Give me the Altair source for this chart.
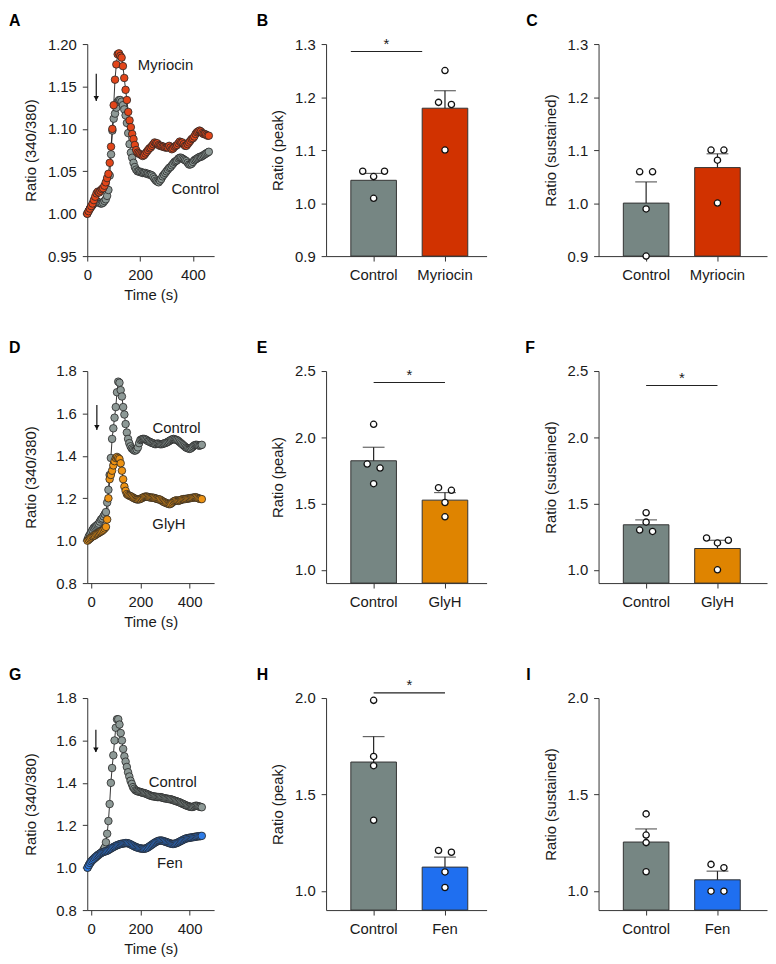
import altair as alt
import pandas as pd

FONT = "Liberation Sans"
INK = "#1a1a1a"
AX = "#333333"

# ---------------- Time-course data (ratio 340/380) ----------------
time_A = list(range(0, 461, 5))
ctrl_A = [1.000, 1.003, 1.006, 1.008, 1.010, 1.012, 1.014, 1.015, 1.014, 1.013,
          1.012, 1.012, 1.013, 1.015, 1.017, 1.021, 1.028, 1.045, 1.070, 1.098,
          1.112, 1.118, 1.125, 1.132, 1.134, 1.134, 1.132, 1.128, 1.123, 1.116,
          1.107, 1.095, 1.082, 1.072, 1.066, 1.060, 1.055, 1.052, 1.050, 1.050,
          1.049, 1.049, 1.048, 1.048, 1.048, 1.047, 1.047, 1.046, 1.046, 1.045,
          1.043, 1.041, 1.039, 1.038, 1.037, 1.039, 1.041, 1.044, 1.046, 1.048,
          1.050, 1.052, 1.054, 1.055, 1.057, 1.059, 1.061, 1.062, 1.063, 1.065,
          1.066, 1.066, 1.065, 1.064, 1.063, 1.062, 1.060, 1.058, 1.058, 1.059,
          1.061, 1.063, 1.064, 1.065, 1.066, 1.067, 1.067, 1.068, 1.069, 1.070,
          1.071, 1.072, 1.073]
myr_A = [1.000, 1.003, 1.006, 1.009, 1.012, 1.016, 1.020, 1.024, 1.026, 1.025,
         1.027, 1.029, 1.030, 1.033, 1.037, 1.042, 1.047, 1.060, 1.079, 1.100,
         1.128, 1.158, 1.176, 1.188, 1.189, 1.186, 1.184, 1.174, 1.160, 1.146,
         1.134, 1.120, 1.110, 1.102, 1.094, 1.088, 1.081, 1.075, 1.072, 1.071,
         1.070, 1.069, 1.068, 1.069, 1.071, 1.073, 1.075, 1.077, 1.078, 1.080,
         1.082, 1.084, 1.083, 1.083, 1.081, 1.080, 1.080, 1.079, 1.079, 1.078,
         1.078, 1.078, 1.080, 1.078, 1.076, 1.077, 1.079, 1.080, 1.081, 1.083,
         1.085, 1.084, 1.084, 1.082, 1.080, 1.080, 1.082, 1.084, 1.086, 1.088,
         1.089, 1.091, 1.094, 1.096, 1.097, 1.098, 1.097, 1.095, 1.094, 1.094,
         1.093, 1.092, 1.092]

time_DG = list(range(-15, 451, 5))
ctrl_D = [1.005, 1.020, 1.030, 1.040, 1.050, 1.060, 1.065, 1.070, 1.075, 1.080,
          1.090, 1.100, 1.105, 1.115, 1.125, 1.135, 1.180, 1.240, 1.310, 1.390,
          1.480, 1.530, 1.580, 1.630, 1.700, 1.750, 1.745, 1.710, 1.680, 1.630,
          1.595, 1.550, 1.510, 1.480, 1.460, 1.445, 1.435, 1.430, 1.425, 1.425,
          1.430, 1.440, 1.460, 1.475, 1.478, 1.480, 1.480, 1.478, 1.475, 1.470,
          1.468, 1.465, 1.462, 1.460, 1.458, 1.455, 1.456, 1.458, 1.457, 1.455,
          1.455, 1.456, 1.458, 1.460, 1.462, 1.465, 1.468, 1.472, 1.475, 1.478,
          1.480, 1.478, 1.476, 1.474, 1.470, 1.465, 1.460, 1.455, 1.450, 1.445,
          1.440, 1.437, 1.435, 1.433, 1.435, 1.440, 1.445, 1.450, 1.452, 1.452,
          1.450, 1.448, 1.450, 1.452]
glyh_D = [1.000, 1.005, 1.010, 1.015, 1.020, 1.022, 1.025, 1.030, 1.033, 1.036,
          1.040, 1.043, 1.047, 1.052, 1.058, 1.065, 1.100, 1.200, 1.290, 1.310,
          1.330, 1.355, 1.375, 1.390, 1.395, 1.390, 1.385, 1.365, 1.330, 1.290,
          1.255, 1.235, 1.220, 1.215, 1.212, 1.210, 1.207, 1.203, 1.200, 1.197,
          1.195, 1.194, 1.195, 1.197, 1.200, 1.203, 1.206, 1.208, 1.208, 1.207,
          1.205, 1.204, 1.203, 1.203, 1.202, 1.200, 1.198, 1.196, 1.195, 1.194,
          1.190, 1.186, 1.183, 1.180, 1.178, 1.175, 1.173, 1.172, 1.175, 1.180,
          1.185, 1.188, 1.190, 1.189, 1.188, 1.190, 1.192, 1.195, 1.196, 1.196,
          1.197, 1.198, 1.199, 1.200, 1.201, 1.202, 1.203, 1.204, 1.205, 1.203,
          1.200, 1.198, 1.197, 1.196]
ctrl_G = [1.000, 1.010, 1.020, 1.028, 1.035, 1.040, 1.045, 1.050, 1.055, 1.060,
          1.065, 1.070, 1.075, 1.085, 1.095, 1.120, 1.160, 1.220, 1.300, 1.400,
          1.470, 1.530, 1.600, 1.660, 1.700, 1.700, 1.675, 1.635, 1.600, 1.560,
          1.525, 1.500, 1.475, 1.450, 1.430, 1.410, 1.395, 1.380, 1.372, 1.365,
          1.362, 1.360, 1.358, 1.357, 1.355, 1.353, 1.352, 1.350, 1.348, 1.345,
          1.343, 1.340, 1.338, 1.337, 1.336, 1.335, 1.334, 1.333, 1.333, 1.333,
          1.332, 1.330, 1.328, 1.327, 1.326, 1.325, 1.324, 1.323, 1.322, 1.320,
          1.318, 1.316, 1.314, 1.312, 1.310, 1.308, 1.305, 1.302, 1.300, 1.297,
          1.294, 1.292, 1.290, 1.288, 1.287, 1.286, 1.287, 1.290, 1.292, 1.292,
          1.290, 1.288, 1.287, 1.285]
fen_G = [1.000, 1.012, 1.022, 1.030, 1.036, 1.042, 1.048, 1.053, 1.058, 1.062,
         1.066, 1.069, 1.072, 1.074, 1.076, 1.078, 1.080, 1.083, 1.087, 1.090,
         1.094, 1.097, 1.100, 1.103, 1.106, 1.108, 1.110, 1.112, 1.113, 1.114,
         1.115, 1.116, 1.116, 1.115, 1.113, 1.110, 1.107, 1.104, 1.101, 1.098,
         1.096, 1.094, 1.092, 1.091, 1.090, 1.089, 1.089, 1.090, 1.092, 1.095,
         1.099, 1.103, 1.107, 1.111, 1.115, 1.119, 1.122, 1.125, 1.127, 1.128,
         1.128, 1.127, 1.125, 1.123, 1.121, 1.119, 1.117, 1.115, 1.113, 1.112,
         1.112, 1.113, 1.115, 1.117, 1.120, 1.123, 1.126, 1.129, 1.132, 1.135,
         1.137, 1.139, 1.140, 1.141, 1.142, 1.143, 1.144, 1.145, 1.146, 1.147,
         1.148, 1.148, 1.149, 1.150]

# ---------------- Bar-chart data ----------------
groups_B = ["Control", "Myriocin"]
means_B = [1.043, 1.179]
top_B = [1.056, 1.212]
pts_B = [[1.060, 1.060, 1.050, 1.009], [1.250, 1.190, 1.186, 1.100]]

means_C = [1.000, 1.067]
top_C = [1.040, 1.093]
pts_C = [[1.059, 1.059, 0.989, 0.900], [1.100, 1.100, 1.081, 1.000]]

groups_E = ["Control", "GlyH"]
means_E = [1.823, 1.526]
top_E = [1.925, 1.583]
pts_E = [[2.098, 1.798, 1.768, 1.650], [1.620, 1.600, 1.508, 1.400]]

means_F = [1.340, 1.161]
top_F = [1.377, 1.223]
pts_F = [[1.431, 1.360, 1.300, 1.290], [1.240, 1.223, 1.203, 1.000]]

groups_H = ["Control", "Fen"]
means_H = [1.668, 1.123]
top_H = [1.800, 1.175]
pts_H = [[1.988, 1.697, 1.649, 1.366], [1.209, 1.200, 1.098, 1.017]]

means_I = [1.253, 1.057]
top_I = [1.321, 1.102]
pts_I = [[1.399, 1.289, 1.250, 1.099], [1.137, 1.120, 0.998, 0.998]]

# colours
BAR_GRAY = "#768683"
BAR_RED = "#d13200"
BAR_ORANGE = "#df8400"
BAR_BLUE = "#1f6ff0"
TS_GRAY = "#8d9996"
TS_RED = "#e2461a"
TS_ORANGE = "#ee9313"
TS_BLUE = "#2d7be6"

PLOT_H = 214
COL_W = [128, 162, 170]


def letter_layer(letter, dx):
    return alt.Chart(pd.DataFrame({"lab": [letter]})).mark_text(
        align="left", baseline="alphabetic", fontSize=16, fontWeight="bold", color="#000000"
    ).encode(text="lab:N", x=alt.value(dx), y=alt.value(-18))


def ts_panel(letter, dx, times, names, series, colors, ydom, yticks, yfmt,
             xdom, xticks, labels, arrow):
    recs = []
    for name, vals in zip(names, series):
        for t, v in zip(times, vals):
            recs.append({"t": t, "v": v, "s": name})
    df = pd.DataFrame(recs)
    xenc = alt.X("t:Q", scale=alt.Scale(domain=xdom, nice=False, zero=False),
                 axis=alt.Axis(title="Time (s)", values=xticks,
                               labelExpr="datum.value % 200 === 0 ? datum.label : ''",
                               labelPadding=7, titlePadding=5))
    yenc = alt.Y("v:Q", scale=alt.Scale(domain=ydom, nice=False, zero=False),
                 axis=alt.Axis(title="Ratio (340/380)", values=yticks, format=yfmt,
                               minExtent=40, maxExtent=40, titlePadding=9, labelPadding=6))
    base = alt.Chart(df)
    line = base.mark_line(color="#1e1e1e", strokeWidth=0.9).encode(x=xenc, y=yenc, detail="s:N")
    pts = base.mark_circle(size=58, opacity=1, stroke="#262626", strokeWidth=0.8).encode(
        x=xenc, y=yenc,
        fill=alt.Fill("s:N", scale=alt.Scale(domain=names, range=colors), legend=None))
    lab_df = pd.DataFrame({"t": [l[0] for l in labels], "v": [l[1] for l in labels],
                           "txt": [l[2] for l in labels]})
    labs = alt.Chart(lab_df).mark_text(fontSize=15, color=INK).encode(
        x="t:Q", y="v:Q", text="txt:N")
    arr_df = pd.DataFrame({"t": [arrow[0]], "v": [arrow[1]], "v2": [arrow[2]], "vh": [arrow[3]]})
    shaft = alt.Chart(arr_df).mark_rule(color="#111111", strokeWidth=1.2).encode(
        x="t:Q", y="v:Q", y2="v2:Q")
    head = alt.Chart(arr_df).mark_point(shape="triangle-down", filled=True, size=30,
                                        color="#111111", opacity=1).encode(x="t:Q", y="vh:Q")
    return alt.layer(line, pts, labs, shaft, head, letter_layer(letter, dx)).properties(
        width=COL_W[0], height=PLOT_H)


def swarm_offsets(vals, ppu):
    order = sorted(range(len(vals)), key=lambda i: -vals[i])
    offs = [0.0] * len(vals)
    clusters = []
    cur = [order[0]]
    for i in order[1:]:
        if abs(vals[cur[-1]] - vals[i]) * ppu < 7:
            cur.append(i)
        else:
            clusters.append(cur)
            cur = [i]
    clusters.append(cur)
    for c in clusters:
        if len(c) == 2:
            offs[c[0]] = -6.5
            offs[c[1]] = 6.5
        elif len(c) == 3:
            offs[c[0]] = -11
            offs[c[1]] = 11
            offs[c[2]] = 0
    return offs


def bar_panel(letter, dx, width, groups, means, tops, points, colors, ydom, yticks,
              ytitle, sig):
    step, pi = 72.0, 0.361
    bw = step * (1 - pi)
    po = (width / step - (2 - pi)) / 2
    al = 25.0 / (width - (2 - pi) * step)
    xscale = alt.Scale(domain=groups, paddingInner=pi, paddingOuter=po, align=al)
    xaxis = alt.Axis(title=None, labelAngle=0, labelPadding=7)
    xenc = alt.X("grp:N", scale=xscale, axis=xaxis, sort=groups)
    yscale = alt.Scale(domain=ydom, nice=False, zero=False)
    yaxis = alt.Axis(title=ytitle, values=yticks, format=".1f", minExtent=31, maxExtent=31,
                     titlePadding=9.5, labelPadding=6)
    bdf = pd.DataFrame({"grp": groups, "mean": means, "top": tops, "base": [ydom[0]] * 2})
    bars = alt.Chart(bdf).mark_bar(stroke=AX, strokeWidth=1).encode(
        x=xenc, y=alt.Y("mean:Q", scale=yscale, axis=yaxis), y2="base:Q",
        fill=alt.Fill("grp:N", scale=alt.Scale(domain=groups, range=colors), legend=None))
    err = alt.Chart(bdf).mark_rule(color="#222222", strokeWidth=1.2).encode(
        x=xenc, y="mean:Q", y2="top:Q")
    cap = alt.Chart(bdf).mark_tick(orient="horizontal", size=22, thickness=1.2,
                                   color="#222222").encode(x=xenc, y="top:Q")
    ppu = PLOT_H / (ydom[1] - ydom[0])
    recs = []
    for g, vals in zip(groups, points):
        for v, o in zip(vals, swarm_offsets(vals, ppu)):
            recs.append({"grp": g, "v": v, "dx": o + bw / 2})
    pdf = pd.DataFrame(recs)
    dots = alt.Chart(pdf).mark_point(shape="circle", size=40, fill="white", fillOpacity=1,
                                     stroke="#111111", strokeWidth=1.3, opacity=1).encode(
        x=xenc, y="v:Q", xOffset=alt.XOffset("dx:Q", scale=None))
    layers = [bars, err, cap, dots]
    if sig is not None:
        yv, bp = sig
        sdf = pd.DataFrame({"grp": [groups[0]], "grp2": [groups[1]], "y": [yv]})
        rule = alt.Chart(sdf).mark_rule(color="#222222", strokeWidth=1.1).encode(
            x=alt.X("grp:N", scale=xscale, sort=groups, bandPosition=bp),
            x2=alt.X2("grp2:N", bandPosition=bp), y="y:Q")
        star = alt.Chart(sdf).mark_text(text="*", fontSize=15, baseline="alphabetic", dy=-3,
                                        dx=step / 2, color=INK).encode(
            x=alt.X("grp:N", scale=xscale, sort=groups, bandPosition=bp), y="y:Q")
        layers += [rule, star]
    layers.append(letter_layer(letter, dx))
    return alt.layer(*layers).properties(width=width, height=PLOT_H)


A = ts_panel("A", -79, time_A, ["Control", "Myriocin"], [ctrl_A, myr_A], [TS_GRAY, TS_RED],
             [0.95, 1.20], [0.95, 1.00, 1.05, 1.10, 1.15, 1.20], ".2f",
             [0, 480], [0, 100, 200, 300, 400],
             [(296, 1.1756, "Myriocin"), (409, 1.029, "Control")],
             (34, 1.165, 1.133, 1.136))
B = bar_panel("B", -70, COL_W[1], groups_B, means_B, top_B, pts_B, [BAR_GRAY, BAR_RED],
              [0.9, 1.3], [0.9, 1.0, 1.1, 1.2, 1.3], "Ratio (peak)", (1.286, 0.0))
C = bar_panel("C", -73, COL_W[2], groups_B, means_C, top_C, pts_C, [BAR_GRAY, BAR_RED],
              [0.9, 1.3], [0.9, 1.0, 1.1, 1.2, 1.3], "Ratio (sustained)", None)

D = ts_panel("D", -79, time_DG, ["Control", "GlyH"], [ctrl_D, glyh_D], [TS_GRAY, TS_ORANGE],
             [0.8, 1.8], [0.8, 1.0, 1.2, 1.4, 1.6, 1.8], ".1f",
             [-16, 500], [0, 100, 200, 300, 400, 500],
             [(347, 1.532, "Control"), (316, 1.079, "GlyH")],
             (23, 1.640, 1.522, 1.535))
E = bar_panel("E", -70, COL_W[1], groups_E, means_E, top_E, pts_E, [BAR_GRAY, BAR_ORANGE],
              [0.9, 2.5], [1.0, 1.5, 2.0, 2.5], "Ratio (peak)", (2.413, 0.5))
F = bar_panel("F", -74, COL_W[2], groups_E, means_F, top_F, pts_F, [BAR_GRAY, BAR_ORANGE],
              [0.9, 2.5], [1.0, 1.5, 2.0, 2.5], "Ratio (sustained)", (2.391, 0.5))

G = ts_panel("G", -79, time_DG, ["Control", "Fen"], [ctrl_G, fen_G], [TS_GRAY, TS_BLUE],
             [0.8, 1.8], [0.8, 1.0, 1.2, 1.4, 1.6, 1.8], ".1f",
             [-16, 500], [0, 100, 200, 300, 400, 500],
             [(332, 1.406, "Control"), (320, 1.023, "Fen")],
             (19, 1.650, 1.545, 1.556))
H = bar_panel("H", -70, COL_W[1], groups_H, means_H, top_H, pts_H, [BAR_GRAY, BAR_BLUE],
              [0.9, 2.0], [1.0, 1.5, 2.0], "Ratio (peak)", (2.027, 0.5))
I = bar_panel("I", -73, COL_W[2], groups_H, means_I, top_I, pts_I, [BAR_GRAY, BAR_BLUE],
              [0.9, 2.0], [1.0, 1.5, 2.0], "Ratio (sustained)", None)

chart = alt.concat(A, B, C, D, E, F, G, H, I, columns=3, bounds="flush", align="each",
                   spacing={"row": 116, "column": 113}).resolve_scale(
    fill="independent").properties(padding=0).configure(
    font=FONT).configure_axis(
    domainColor=AX, tickColor=AX, domainWidth=1, tickWidth=1, tickSize=5,
    labelFontSize=15, titleFontSize=15, labelColor=INK, titleColor=INK,
    titleFontWeight="normal", grid=False, labelFont=FONT, titleFont=FONT,
    labelFlush=False, labelOverlap=False).configure_view(stroke="transparent").configure_text(
    font=FONT)

chart.save("out.html", embed_options={"renderer": "svg", "actions": False})
